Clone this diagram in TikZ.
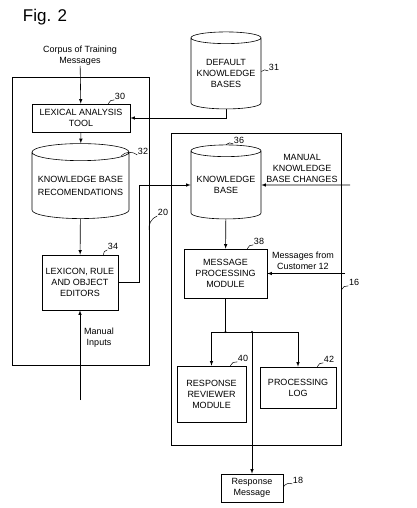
\documentclass[tikz,border=0pt]{standalone}
\usepackage{fontspec}
\setmainfont{Liberation Sans}
\usetikzlibrary{shapes}
\usetikzlibrary{positioning}
\usetikzlibrary{arrows.meta}
\tikzset{
    blockbox/.style = {rectangle, draw=black, line width=0.6pt, align=center, inner sep=1pt},
    sysbox/.style = {rectangle, draw=black, line width=0.6pt},
    dbcyl/.style = {cylinder, shape border rotate=90, draw=black, line width=0.6pt, aspect=0.2, align=center, inner sep=0pt},
    txt/.style = {align=center, inner sep=0pt},
    refnum/.style = {inner sep=0.5pt},
    edgen/.style = {-latex, line width=0.6pt},
    edgep/.style = {line width=0.6pt},
    leader/.style = {line width=0.5pt, bend left=40},
}
\begin{document}
\begin{tikzpicture}[x=1pt,y=-1pt,font=\fontsize{9}{11}\selectfont]
\useasboundingbox (0,0) rectangle (416,508);
\node[txt, font=\fontsize{17}{19}\selectfont] at (45,17) (fig) {Fig. 2};
% left part
\node[sysbox, minimum width=137pt, minimum height=288pt] at (80.5,221) (leftsys) {};
\node[txt] at (80,56) (corpus) {Corpus of Training\\Messages};
\node[blockbox, minimum width=98pt, minimum height=28pt] at (81,118) (lex) {LEXICAL ANALYSIS\\TOOL};
\node[dbcyl, minimum width=97pt, minimum height=75pt] at (80.5,185.5) (kbrec) {KNOWLEDGE BASE\\[2pt]RECOMENDATIONS};
\node[blockbox, minimum width=76pt, minimum height=55pt] at (80,282.5) (lexed) {LEXICON, RULE\\AND OBJECT\\EDITORS};
\node[txt] at (99,337.5) (manual) {Manual\\Inputs};
\coordinate (manin) at (80,400);
% right part
\node[dbcyl, minimum width=70pt, minimum height=77pt] at (226,73.5) (defkb) {DEFAULT\\KNOWLEDGE\\BASES};
\node[sysbox, minimum width=170pt, minimum height=312pt] at (256,289) (rightsys) {};
\node[dbcyl, minimum width=70pt, minimum height=74pt] at (226,185) (kb) {KNOWLEDGE\\BASE};
\node[txt] at (302,168.5) (mkbtxt) {MANUAL\\KNOWLEDGE\\BASE CHANGES};
\coordinate (mkbin) at (350,185);
\node[blockbox, minimum width=83pt, minimum height=49pt] at (225.5,273.5) (mpm) {MESSAGE\\PROCESSING\\MODULE};
\node[txt] at (303,260.5) (msgtxt) {Messages from\\Customer 12};
\coordinate (msgin) at (345,273.5);
\coordinate (jl) at (225.5,332);
\coordinate (jr) at (252,332);
\node[blockbox, minimum width=69pt, minimum height=56pt] at (211.5,394) (rrm) {RESPONSE\\REVIEWER\\MODULE};
\node[blockbox, minimum width=76pt, minimum height=41pt] at (298,387.5) (plog) {PROCESSING\\LOG};
\node[blockbox, minimum width=62pt, minimum height=28pt] at (252,488) (resp) {Response\\Message};
% reference numbers
\node[refnum] at (120,96) (n30) {30};
\node[refnum] at (143,151) (n32) {32};
\node[refnum] at (113,246) (n34) {34};
\node[refnum] at (163,212) (n20) {20};
\node[refnum] at (274,67) (n31) {31};
\node[refnum] at (239,140) (n36) {36};
\node[refnum] at (259,241) (n38) {38};
\node[refnum] at (354,282) (n16) {16};
\node[refnum] at (243,358) (n40) {40};
\node[refnum] at (329,359) (n42) {42};
\node[refnum] at (298,480) (n18) {18};
%
\draw[edgen] (corpus) -- (lex);
\draw[edgen] (lex) -- (kbrec);
\draw[edgen] (kbrec) -- (lexed);
\draw[edgen] (manin) -- (lexed);
\draw[edgen] (defkb.south) |- (lex.east);
\draw[edgen] (lexed.east) -- ++(21,0) |- (kb.west);
\draw[edgen] (mkbin) -- (kb.east);
\draw[edgen] (kb) -- (mpm);
\draw[edgen] (msgin) -- (mpm.east);
\draw[edgep] (mpm) -- (jl);
\draw[edgen] (jl) -| (rrm.north);
\draw[edgen] (jl) -| (plog.north);
\draw[edgen] (jr) -- (resp.north);
\fill (jl) circle (1.2pt) (jr) circle (1.2pt);
%
\draw[leader] ([xshift=-22pt]lex.north east) to (n30.south west);
\draw[leader] ([xshift=2pt,yshift=-9pt]kbrec.north east) to (n32.south west);
\draw[leader] ([xshift=-15pt]lexed.north east) to (n34.south west);
\draw[leader] ([yshift=-10pt]leftsys.east) to (n20.south west);
\draw[leader] ([yshift=2pt]defkb.east) to (n31.south west);
\draw[leader] (kb.north) to (n36.south west);
\draw[leader] ([xshift=-20pt]mpm.north east) to (n38.south west);
\draw[leader] ([yshift=-1pt]rightsys.east) to (n16.south west);
\draw[leader] ([xshift=-16pt]rrm.north east) to (n40.south west);
\draw[leader] ([xshift=-19pt]plog.north east) to (n42.south west);
\draw[leader] ([yshift=1pt]resp.east) to (n18.south west);
\end{tikzpicture}
\end{document}
